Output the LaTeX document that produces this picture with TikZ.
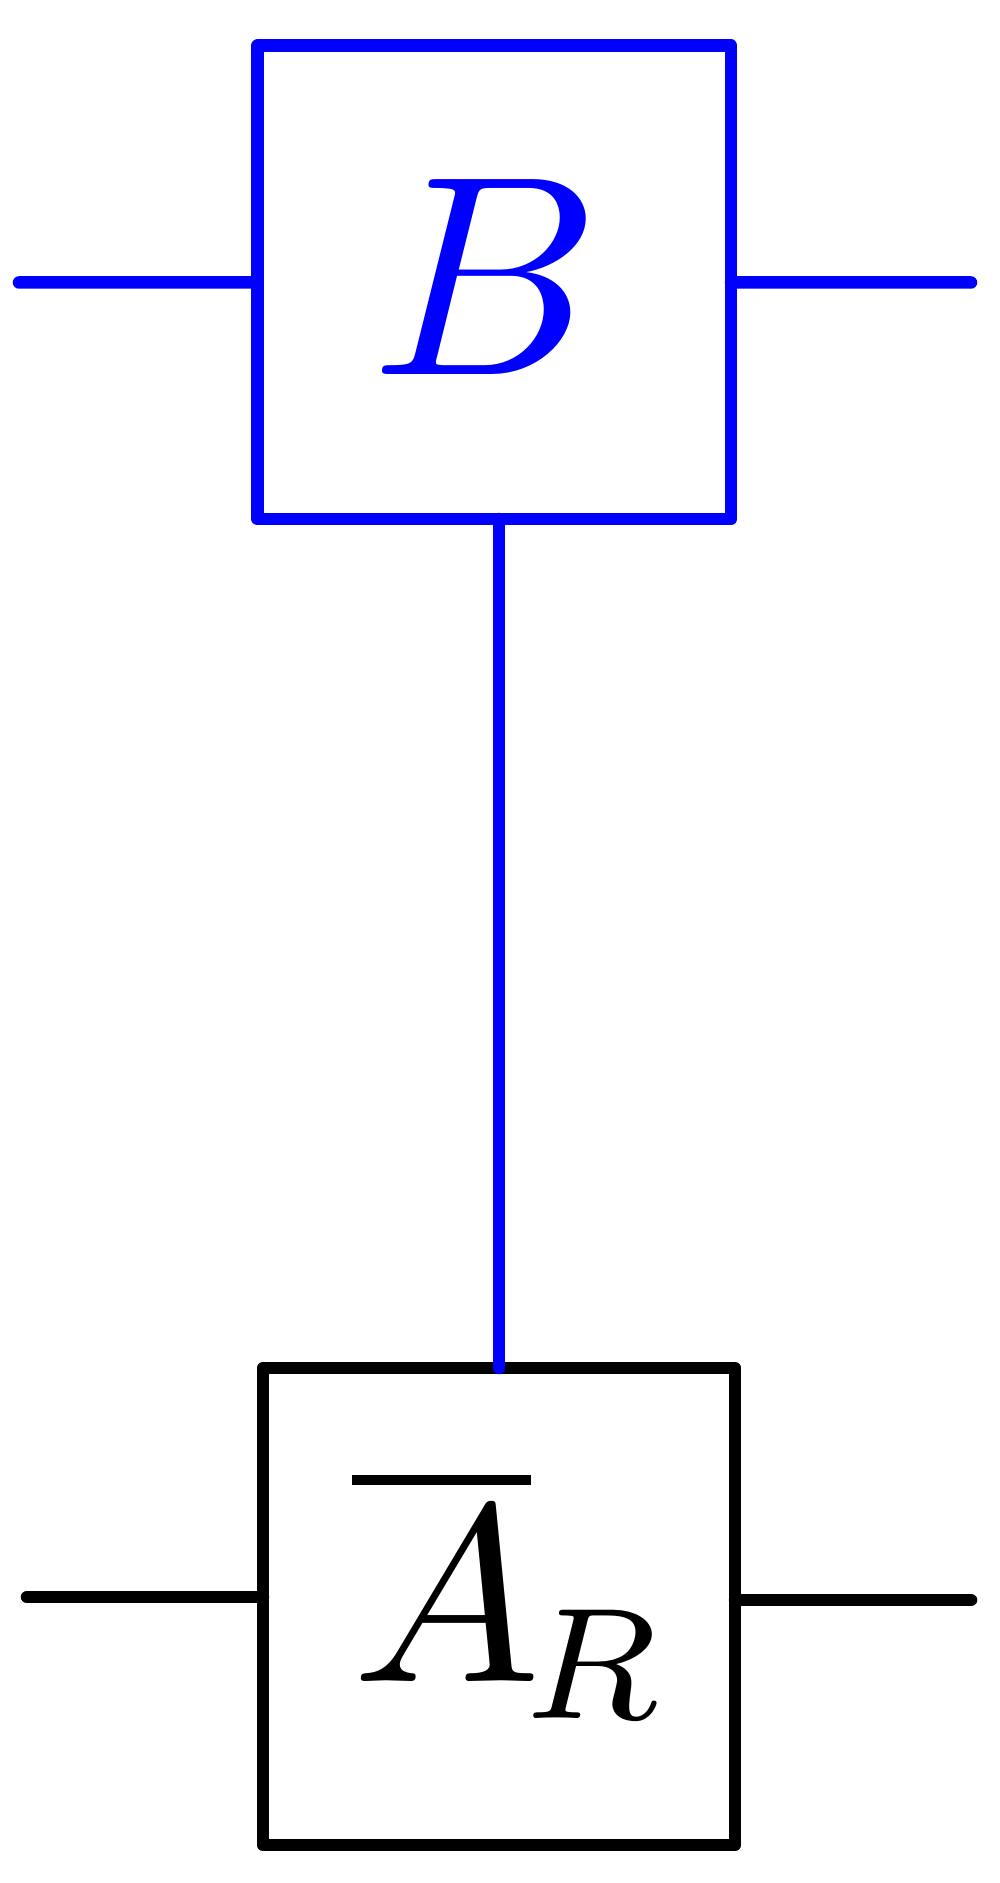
\documentclass[tikz,border=0pt]{standalone}
\usetikzlibrary{calc}
\begin{document}
\begin{tikzpicture}[
  wire/.style={line width=3.56pt, line cap=round, line join=round},
  gate/.style={draw, line width=3.56pt, line join=round, rectangle, inner sep=0pt, outer sep=0pt}
]
\path[use as bounding box] (0,0) rectangle (10,-18.83);
% boxes
\node[gate, blue, minimum width=4.735cm, minimum height=4.733cm] (B) at (4.943,-2.824) {};
\node[gate, black, minimum width=4.72cm, minimum height=4.77cm] (A) at (4.99,-16.065) {};
% labels
\node[text=blue, inner sep=0pt, scale=8.12] (Blab) at (4.855,-2.765) {$B$};
\node[inner sep=0pt, scale=7.16, anchor=base west] (Alab) at (3.47,-16.81)
  {$\overline{\raisebox{0pt}[6.6pt][0pt]{$A\mkern-0.7mu$}}_{\mkern-0.7mu\scalebox{0.9}{$\scriptstyle R$}}$};
% wires
\coordinate (bl) at (0.19,-2.825);
\coordinate (br) at (9.71,-2.825);
\coordinate (al) at (0.27,-15.97);
\coordinate (ar) at (9.71,-16.00);
\draw[wire, blue] (bl) -- (B.west);
\draw[wire, blue] (B.east) -- (br);
\draw[wire, blue] (B.south -| A.north) -- (A.north);
\draw[wire] (al) -- (al -| A.west);
\draw[wire] (A.east |- ar) -- (ar);
\end{tikzpicture}
\end{document}
